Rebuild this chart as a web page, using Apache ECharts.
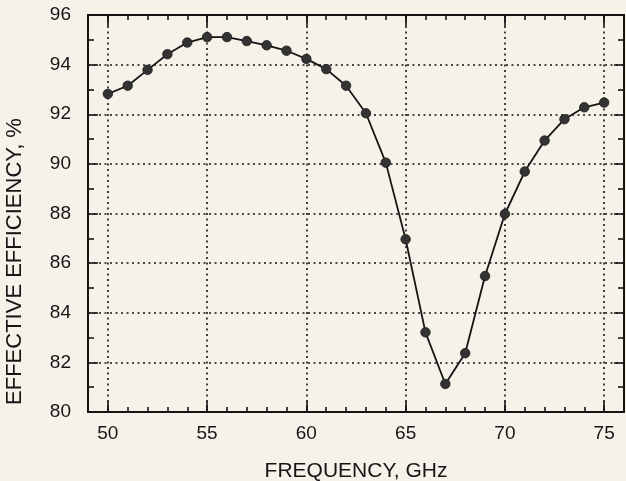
<!DOCTYPE html>
<html>
<head>
<meta charset="utf-8">
<script src="https://cdn.jsdelivr.net/npm/echarts@6/dist/echarts.min.js"></script>
<style>
html,body{margin:0;padding:0;background:#f6f2ea;}
#chart{width:626px;height:481px;}
</style>
</head>
<body>
<div id="chart"></div>
<script>
// Data
const xCategories = ['49','50','51','52','53','54','55','56','57','58','59','60','61','62','63','64','65','66','67','68','69','70','71','72','73','74','75','76'];
const frequencies = ['50','51','52','53','54','55','56','57','58','59','60','61','62','63','64','65','66','67','68','69','70','71','72','73','74','75'];
const efficiency = [92.82,93.15,93.79,94.42,94.89,95.11,95.11,94.95,94.78,94.56,94.23,93.82,93.15,92.04,90.05,86.96,83.21,81.13,82.37,85.48,87.98,89.69,90.94,91.80,92.28,92.47];
const yMin = 80, yMax = 96, yStep = 2;
const xTitle = 'FREQUENCY, GHz';
const yTitle = 'EFFECTIVE EFFICIENCY, %';

const ink = '#151515';
const major = (i, v) => Number(v) % 5 === 0;
const font = 'Liberation Sans';

const chart = echarts.init(document.getElementById('chart'), null, {renderer:'canvas'});
const dotted = {type:[2,3.5], color:ink, width:1.6};

function xAx(pos, isMajor, extra){
  return Object.assign({
    type:'category', data:xCategories, boundaryGap:false, position:pos, gridIndex:0,
    axisLine:{show:false},
    axisTick:{show:true, inside:true, length:isMajor?11:5, interval:isMajor?major:0, lineStyle:{color:ink,width:1.6}},
    axisLabel:{show:false},
    splitLine:{show:false}
  }, extra||{});
}

const option = {
  backgroundColor:'#f6f2ea',
  animation:false,
  grid:{left:88, right:2, top:15, bottom:69, outerBoundsMode:'none', containLabel:false,
        show:true, borderColor:ink, borderWidth:2, backgroundColor:'transparent'},
  xAxis:[
    xAx('bottom', true, {
      name:xTitle, nameLocation:'middle', nameGap:49,
      nameTextStyle:{fontFamily:font, fontSize:21, color:ink},
      axisLabel:{show:true, interval:major, margin:12, fontFamily:font, fontSize:19, color:ink},
      splitLine:{show:true, interval:major, lineStyle:dotted}
    }),
    xAx('bottom', false),
    xAx('top', true),
    xAx('top', false)
  ],
  yAxis:[
    {
      type:'value', min:yMin, max:yMax, interval:yStep, position:'left',
      name:yTitle, nameLocation:'middle', nameGap:62, nameRotate:90,
      nameTextStyle:{fontFamily:font, fontSize:22, color:ink, padding:[0,96,0,0]},
      axisLine:{show:false},
      axisTick:{show:true, inside:true, length:10, lineStyle:{color:ink,width:1.6}},
      minorTick:{show:true, splitNumber:2, length:6, lineStyle:{color:ink,width:1.6}},
      axisLabel:{margin:17, fontFamily:font, fontSize:19, color:ink},
      splitLine:{show:true, lineStyle:dotted}
    },
    {
      type:'value', min:yMin, max:yMax, interval:yStep, position:'right',
      axisLine:{show:false},
      axisTick:{show:true, inside:true, length:10, lineStyle:{color:ink,width:1.6}},
      minorTick:{show:true, splitNumber:2, length:6, lineStyle:{color:ink,width:1.6}},
      axisLabel:{show:false},
      splitLine:{show:false}
    }
  ],
  series:[{
    type:'line', xAxisIndex:0, yAxisIndex:0,
    data:frequencies.map((f,i)=>[f, efficiency[i]]),
    symbol:'circle', symbolSize:9.5,
    itemStyle:{color:'#333333', borderColor:'#1a1a1a', borderWidth:0.8},
    lineStyle:{color:ink, width:1.8},
    z:5
  }]
};
chart.setOption(option);
</script>
</body>
</html>
